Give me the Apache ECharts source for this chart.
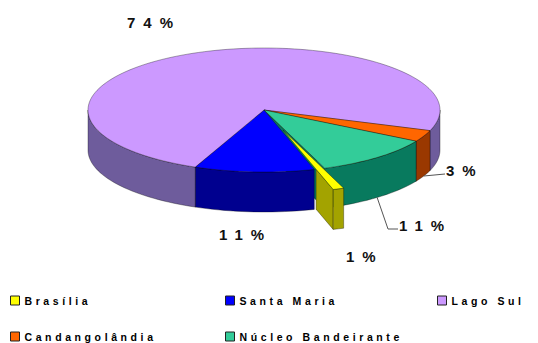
<!DOCTYPE html>
<html>
<head>
<meta charset="utf-8">
<script src="https://cdn.jsdelivr.net/npm/echarts@6/dist/echarts.min.js"></script>
<style>
  html, body { margin: 0; padding: 0; background: #fff; }
  #chart { width: 538px; height: 343px; }
  /* wide tracking for every text; the slice percentages get a wider one */
  #chart text { letter-spacing: 3.6px; }
  #chart text[style*="15px"] { letter-spacing: 8px; }
</style>
</head>
<body>
<div id="chart"></div>
<script>
// Participação por região administrativa (%)
const regions = ['Brasília', 'Santa Maria', 'Lago Sul', 'Candangolândia', 'Núcleo Bandeirante'];
const shares = [1, 11, 74, 3, 11];
const topColors = ['#FFFF00', '#0000FF', '#CC99FF', '#FF6600', '#33CC99'];
const sideColors = ['#A3A300', '#00008F', '#6E5C9C', '#9A3800', '#087A5E'];
const explode = [0.34, 0, 0, 0, 0];

// Drawing geometry of the tilted pie (screen degrees, clockwise from 3 o'clock)
const PIE = { cx: 264, cy: 110, rx: 176, ry: 62, depth: 40, startDeg: 69.8 };
// Where each percentage label sits, plus optional leader elbows
const LABELS = [
  { x: 346, y: 256 },
  { x: 219, y: 234 },
  { x: 127, y: 22 },
  { x: 446, y: 170, leader: [[445, 174]] },
  { x: 399, y: 225, leader: [[388, 229], [398, 229]] }
];
const LABEL_FONT = "bold 15px 'Liberation Sans', Arial, sans-serif";
const EDGE = 'rgba(0,0,0,0.55)';

const total = shares.reduce((s, v) => s + v, 0);
const rad = d => d * Math.PI / 180;

function pt(ox, oy, deg, r, h) {
  return [
    PIE.cx + (ox + r * Math.cos(rad(deg))) * PIE.rx,
    PIE.cy + (oy + r * Math.sin(rad(deg))) * PIE.ry + h
  ];
}
function arcPts(ox, oy, d0, d1, h) {
  const n = Math.max(2, Math.ceil(Math.abs(d1 - d0) / 2));
  const out = [];
  for (let j = 0; j <= n; j++) out.push(pt(ox, oy, d0 + (d1 - d0) * j / n, 1, h));
  return out;
}

function renderItem(params, api) {
  const i = params.dataIndex;
  let a0 = PIE.startDeg;
  for (let k = 0; k < i; k++) a0 += shares[k] / total * 360;
  const a1 = a0 + api.value(1) / total * 360;
  const mid = (a0 + a1) / 2;
  const e = explode[i];
  const ox = e * Math.cos(rad(mid));
  const oy = e * Math.sin(rad(mid));
  const zb = e > 0 ? 20 : 0;
  const D = PIE.depth;
  const children = [];

  // radial cut faces (only those turned toward the viewer)
  [[a0, Math.cos(rad(a0)) < 0], [a1, Math.cos(rad(a1)) > 0]].forEach(([d, visible]) => {
    if (!visible) return;
    let t0 = 0;
    if (e > 0) {
      // an exploded slice only shows the part of its cut face outside the cylinder
      const ux = Math.cos(rad(d)), uy = Math.sin(rad(d));
      const od = ox * ux + oy * uy;
      const disc = od * od - (ox * ox + oy * oy) + 1;
      t0 = Math.min(1, Math.max(0, -od + Math.sqrt(Math.max(0, disc))));
    }
    const pinT = pt(ox, oy, d, t0, 0), poutT = pt(ox, oy, d, 1, 0);
    const poutB = pt(ox, oy, d, 1, D), pinB = pt(ox, oy, d, t0, D);
    children.push({
      type: 'polygon', z2: zb + 1,
      shape: { points: [pinT, poutT, poutB, pinB] },
      style: { fill: sideColors[i], stroke: EDGE, lineWidth: 0.6 }
    });
  });

  // outer curved wall, front half only
  for (let k = -1; k <= 2; k++) {
    const s = Math.max(a0, k * 360), t = Math.min(a1, k * 360 + 180);
    if (t - s <= 0.01) continue;
    const top = arcPts(ox, oy, s, t, 0);
    const bot = arcPts(ox, oy, t, s, D);
    children.push({
      type: 'polygon', z2: zb + 2,
      shape: { points: top.concat(bot) },
      style: { fill: sideColors[i], stroke: EDGE, lineWidth: 0.6 }
    });
  }

  // top face
  children.push({
    type: 'polygon', z2: zb + 3,
    shape: { points: [pt(ox, oy, 0, 0, 0)].concat(arcPts(ox, oy, a0, a1, 0)) },
    style: { fill: topColors[i], stroke: EDGE, lineWidth: 0.6 }
  });

  // percentage label and leader
  const lab = LABELS[i];
  if (lab.leader) {
    children.push({
      type: 'polyline', z2: 40,
      shape: { points: [pt(ox, oy, mid, 1, D)].concat(lab.leader) },
      style: { stroke: '#555', lineWidth: 1, fill: null }
    });
  }
  children.push({
    type: 'text', z2: 41,
    style: {
      text: api.value(1) + '%', x: lab.x, y: lab.y,
      font: LABEL_FONT, fill: '#111', align: 'left', verticalAlign: 'middle'
    }
  });

  return { type: 'group', children: children };
}

const legendBase = {
  orient: 'vertical', icon: 'rect', itemWidth: 9, itemHeight: 9, itemGap: 25,
  padding: 0, selectedMode: false,
  itemStyle: { borderColor: '#222', borderWidth: 1 },
  textStyle: {
    fontFamily: "'Liberation Sans', Arial, sans-serif", fontWeight: 'bold',
    fontSize: 10.5, lineHeight: 9, color: '#000'
  }
};

const chart = echarts.init(document.getElementById('chart'), null, { renderer: 'svg' });
chart.setOption({
  backgroundColor: '#fff',
  animation: false,
  legend: [
    Object.assign({}, legendBase, { data: [regions[0], regions[3]], left: 10, top: 295 }),
    Object.assign({}, legendBase, { data: [regions[1], regions[4]], left: 225, top: 295 }),
    Object.assign({}, legendBase, { data: [regions[2]], left: 437, top: 295 })
  ],
  series: [
    {
      type: 'custom',
      coordinateSystem: 'none',
      silent: true,
      renderItem: renderItem,
      data: regions.map((n, i) => ({ name: n, value: [i, shares[i]] }))
    },
    {
      // feeds the legend swatches; drawn with no radius
      type: 'pie',
      radius: [0, 0],
      silent: true,
      label: { show: false },
      labelLine: { show: false },
      data: regions.map((n, i) => ({ name: n, value: shares[i], itemStyle: { color: topColors[i] } }))
    }
  ]
});
</script>
</body>
</html>
